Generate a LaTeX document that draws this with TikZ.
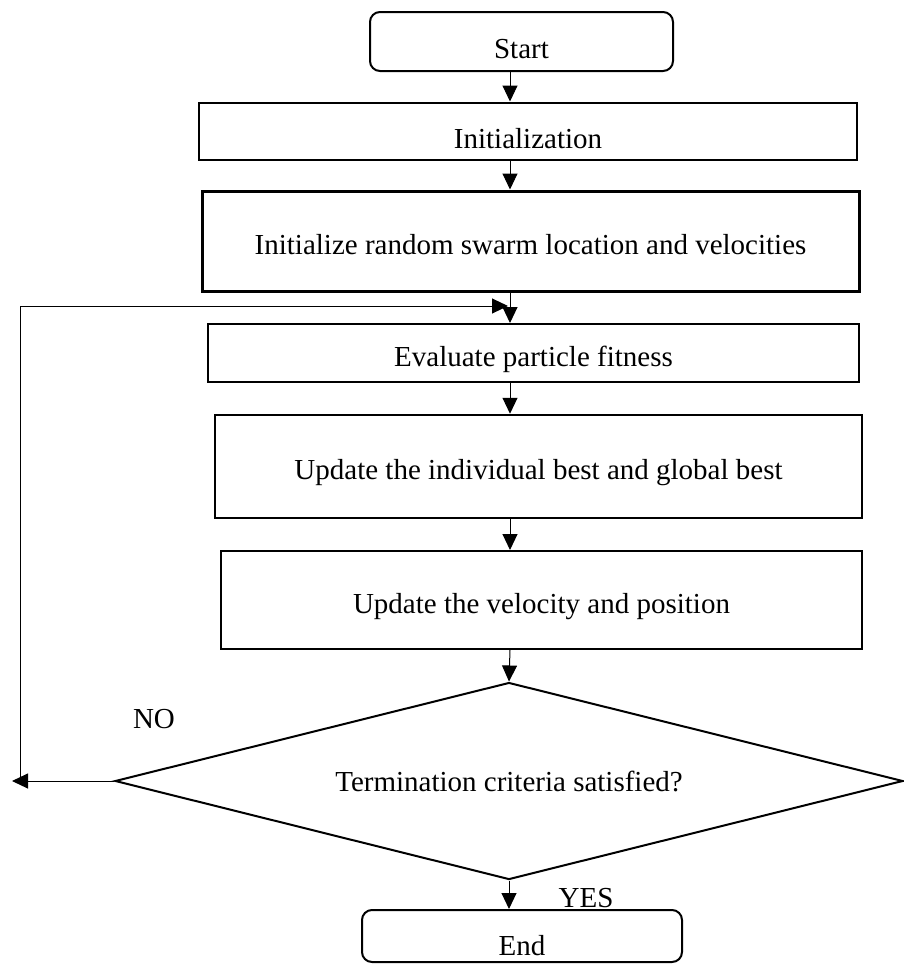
\documentclass[tikz,border=0pt]{standalone}
\usepackage{fontspec}
\setmainfont{Liberation Serif}
\usetikzlibrary{arrows.meta,shapes.geometric,positioning}
\tikzset{
    procbox/.style={draw, rectangle, line width=2pt, inner sep=0pt, text height=26pt, text depth=0pt, font=\fontsize{29}{35}\selectfont},
    termbox/.style={procbox, rounded corners=10pt},
    decision/.style={draw, diamond, aspect=4, line width=2pt, inner sep=0pt, font=\fontsize{29}{35}\selectfont},
    flow/.style={-{Triangle[length=16pt, width=15pt]}, line width=1pt},
    tag/.style={inner sep=0pt, font=\fontsize{29}{35}\selectfont}
}

\begin{document}
\begin{tikzpicture}[x=1pt, y=-1pt]
            \useasboundingbox (0,0) rectangle (903,964);
            \coordinate (mid) at (510,0);
            \node[termbox, minimum width=303pt, minimum height=59pt, text height=34pt] (start) at (521.5,41.5) {Start};
            \node[procbox, minimum width=658pt, minimum height=57pt, text height=34pt] (init) at (528,131) {Initialization};
            \node[procbox, line width=3pt, minimum width=657pt, minimum height=100pt] (swarm) at (530.5,241) {Initialize random swarm location and velocities};
            \node[procbox, minimum width=651pt, minimum height=58pt] (eval) at (533.5,353) {Evaluate particle fitness};
            \node[procbox, line width=2.5pt, minimum width=647pt, minimum height=103pt] (best) at (538.5,466.5) {Update the individual best and global best};
            \node[procbox, minimum width=641pt, minimum height=98pt] (vel) at (541.5,600) {Update the velocity and position};
            \node[decision, minimum width=788pt, minimum height=197pt] (term) at (509,781) {Termination criteria satisfied?};
            \node[termbox, minimum width=320pt, minimum height=52pt, text height=38pt] (end) at (522,936) {End};
            \node[tag] (no) at (154,719) {NO};
            \node[tag] (yes) at (586,898) {YES};
            % main flow
            \draw[flow] (mid |- start.south) -- (mid |- init.north);
            \draw[flow] (mid |- init.south) -- (mid |- swarm.north);
            \draw[flow] (mid |- swarm.south) -- (mid |- eval.north);
            \draw[flow] (mid |- eval.south) -- (mid |- best.north);
            \draw[flow] (mid |- best.south) -- (mid |- vel.north);
            \draw[flow] (mid |- vel.south) -- (term.north);
            \draw[flow] (term.south) -- (term.south |- end.north);
            % loop back
            \coordinate (loopbot) at (12,781);
            \coordinate (loopend) at (508,306);
            \draw[flow] (term.west) -- (loopbot);
            \draw[flow] ([xshift=8pt]loopbot) |- (loopend);
        \end{tikzpicture}
\end{document}
